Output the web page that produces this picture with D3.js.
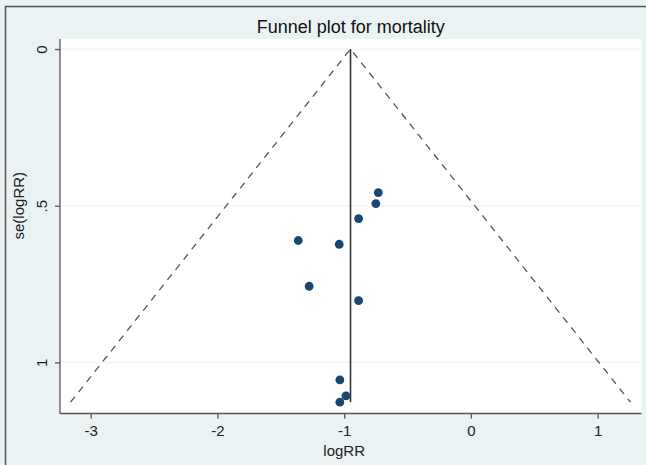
<!DOCTYPE html>
<html>
<head>
<meta charset="utf-8">
<script src="https://cdn.jsdelivr.net/npm/d3@7"></script>
<style>
  body { margin: 0; padding: 0; background: #ffffff; }
  svg { display: block; }
</style>
</head>
<body>
<div id="mainDiv"></div>
<script>
'use strict';

var chart = {};

// study estimates
chart.logRR = [-0.731, -0.750, -0.886, -1.362, -1.039, -1.276, -0.886, -1.034, -0.986, -1.034];
chart.seLogRR = [0.458, 0.493, 0.541, 0.611, 0.623, 0.757, 0.803, 1.056, 1.107, 1.127];
chart.pooled = -0.95;
chart.xTicks = [-3, -2, -1, 0, 1];
chart.yTicks = [0, 0.5, 1];
chart.yTickLabels = ["0", ".5", "1"];
chart.title = "Funnel plot for mortality";

chart.run = function ()
{
    var W = 646, H = 465;
    var left = 60, right = 641.5, top = 39, bottom = 413.5;
    var font = "'Liberation Sans', Arial, sans-serif";

    var svg = d3.select("#mainDiv").append("svg")
        .attr("width", W)
        .attr("height", H);

    svg.append("rect")
        .attr("x", 0).attr("y", 0)
        .attr("width", W).attr("height", H)
        .attr("fill", "#eaf2f3");

    // frame on top and left of the picture
    svg.append("path")
        .attr("d", "M5.5," + H + "V6.5H" + W)
        .attr("fill", "none")
        .attr("stroke", "#555")
        .attr("stroke-width", 1.5);

    var x = d3.scaleLinear().domain([-3.242, 1.346]).range([left, right]);
    var y = d3.scaleLinear().domain([-0.032, 1.163]).range([top, bottom]);

    svg.append("rect")
        .attr("x", left).attr("y", top)
        .attr("width", right - left).attr("height", bottom - top)
        .attr("fill", "#ffffff");

    // light grid lines
    svg.selectAll("line.grid")
        .data(chart.yTicks)
        .enter()
        .append("line")
            .attr("class", "grid")
            .attr("x1", left).attr("x2", right)
            .attr("y1", function(d) { return y(d); })
            .attr("y2", function(d) { return y(d); })
            .attr("stroke", "#edf4f5")
            .attr("stroke-width", 1.2);

    // pseudo 95% confidence limits
    var seMax = d3.max(chart.seLogRR);
    var funnel = [
        [chart.pooled - 1.96 * seMax, seMax],
        [chart.pooled, 0],
        [chart.pooled + 1.96 * seMax, seMax]
    ];
    svg.append("path")
        .datum(funnel)
        .attr("d", d3.line()
            .x(function(d) { return x(d[0]); })
            .y(function(d) { return y(d[1]); }))
        .attr("fill", "none")
        .attr("stroke", "#555")
        .attr("stroke-width", 1.3)
        .attr("stroke-dasharray", "7,6");

    svg.append("line")
        .attr("x1", x(chart.pooled)).attr("x2", x(chart.pooled))
        .attr("y1", y(0)).attr("y2", y(seMax))
        .attr("stroke", "#333")
        .attr("stroke-width", 1.6);

    svg.selectAll("circle")
        .data(chart.logRR)
        .enter()
        .append("circle")
            .attr("cx", function(d) { return x(d); })
            .attr("cy", function(d, i) { return y(chart.seLogRR[i]); })
            .attr("r", 4.4)
            .attr("fill", "#1a476f");

    // axes
    var xAxis = svg.append("g")
        .attr("transform", "translate(0," + bottom + ")")
        .call(d3.axisBottom(x).tickValues(chart.xTicks).tickSize(5).tickPadding(7)
            .tickFormat(function(d) { return String(d); }));
    var yAxis = svg.append("g")
        .attr("transform", "translate(" + left + ",0)")
        .call(d3.axisLeft(y).tickValues(chart.yTicks).tickSize(5).tickPadding(4)
            .tickFormat(function(d, i) { return chart.yTickLabels[i]; }));

    [xAxis, yAxis].forEach(function(g) {
        g.select(".domain").attr("stroke", "#555").attr("stroke-width", 1.3);
        g.selectAll(".tick line").attr("stroke", "#555").attr("stroke-width", 1.3);
        g.selectAll("text")
            .attr("font-family", font)
            .attr("font-size", "15px")
            .attr("fill", "#222");
    });
    xAxis.select(".domain").attr("d", "M" + left + ",0H" + right);
    yAxis.select(".domain").attr("d", "M0," + bottom + "V" + top);

    yAxis.selectAll(".tick text")
        .attr("x", null).attr("dy", null)
        .attr("text-anchor", "middle")
        .attr("transform", "translate(-18,0) rotate(-90)")
        .attr("dy", "0.35em");

    svg.append("text")
        .text(chart.title)
        .attr("x", (left + right) / 2)
        .attr("y", 33)
        .attr("text-anchor", "middle")
        .attr("font-family", font)
        .attr("font-size", "18px")
        .attr("fill", "#111");

    svg.append("text")
        .text("logRR")
        .attr("x", x(-1))
        .attr("y", 456)
        .attr("text-anchor", "middle")
        .attr("font-family", font)
        .attr("font-size", "15px")
        .attr("fill", "#222");

    svg.append("text")
        .text("se(logRR)")
        .attr("transform", "translate(24," + y(0.5) + ") rotate(-90)")
        .attr("text-anchor", "middle")
        .attr("font-family", font)
        .attr("font-size", "15px")
        .attr("fill", "#222");
};

window.onload = chart.run;
</script>
</body>
</html>
